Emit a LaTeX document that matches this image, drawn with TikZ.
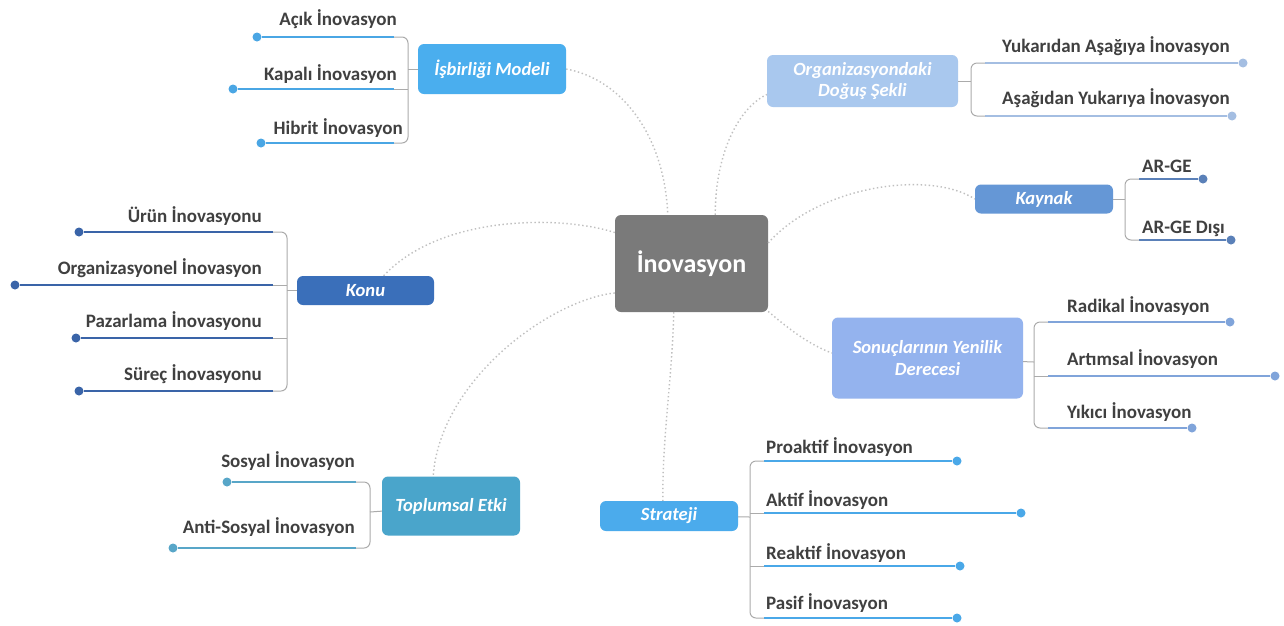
\documentclass[tikz,border=0pt]{standalone}
\usepackage{fontspec}
\setmainfont{Carlito}
\definecolor{cCtr}{HTML}{7A7A7A}
\definecolor{cIsb}{HTML}{4AAEEE}
\definecolor{lIsb}{HTML}{4AA6E4}
\definecolor{cOrg}{HTML}{A9C8EE}
\definecolor{lOrg}{HTML}{A4BEE2}
\definecolor{cKay}{HTML}{6597D6}
\definecolor{lKay}{HTML}{5A80B8}
\definecolor{cSon}{HTML}{94B3EE}
\definecolor{lSon}{HTML}{80A4DA}
\definecolor{cStr}{HTML}{4BABEC}
\definecolor{lStr}{HTML}{4AA8E8}
\definecolor{cTop}{HTML}{4AA5CB}
\definecolor{lTop}{HTML}{58A6C8}
\definecolor{cKon}{HTML}{3A6FBA}
\definecolor{lKon}{HTML}{3A64A8}
\definecolor{txtgray}{HTML}{404040}
\definecolor{brkgray}{HTML}{ABABAB}
\definecolor{lnkgray}{HTML}{BFBFBF}
\tikzset{
  catbox/.style={rounded corners=6pt, fill=#1, text=white, font=\bfseries\itshape\fontsize{18.6}{21}\selectfont, align=center, inner sep=0pt},
  leaf/.style={font=\bfseries\fontsize{19}{22}\selectfont, text=txtgray, inner sep=0pt},
  dotn/.style={circle, fill=#1, inner sep=0pt, minimum size=9pt},
  lline/.style={draw=#1, line width=2.8pt},
  brk/.style={draw=brkgray, line width=1pt, rounded corners=6pt},
  link/.style={draw=lnkgray, line width=1.4pt, dash pattern=on 1.4pt off 2.6pt},
}
\begin{document}
\begin{tikzpicture}[x=1pt,y=-1pt]
\useasboundingbox (0,0) rectangle (1284,625);
\fill[white] (0,0) rectangle (1284,625);

% category boxes
\node[catbox=cCtr, minimum width=153pt, minimum height=97pt, font=\bfseries\fontsize{26}{30}\selectfont] (ctr) at (691.5,263.5) {İnovasyon};
\node[catbox=cIsb, minimum width=148pt, minimum height=50pt] (isb) at (492,69) {İşbirliği Modeli};
\node[catbox=cOrg, minimum width=191pt, minimum height=52pt] (org) at (862.5,81) {Organizasyondaki\\Doğuş Şekli};
\node[catbox=cKay, minimum width=138pt, minimum height=29pt] (kay) at (1044,199) {Kaynak};
\node[catbox=cSon, minimum width=191pt, minimum height=81pt, font=\bfseries\itshape\fontsize{18.6}{22}\selectfont] (son) at (927.5,358) {Sonuçlarının Yenilik\\Derecesi};
\node[catbox=cStr, minimum width=138pt, minimum height=30pt] (str) at (669,516) {Strateji};
\node[catbox=cTop, minimum width=138pt, minimum height=59pt] (top) at (451,506) {Toplumsal Etki};
\node[catbox=cKon, minimum width=137pt, minimum height=29pt] (kon) at (365.5,290.5) {Konu};

% dotted links from the centre
\draw[link] (isb.east) .. controls (625,80) and (665,140) .. (ctr.116.8);
\draw[link] (ctr.64.2) .. controls (715,160) and (735,110) .. (org.188.4);
\draw[link] (ctr.15.7) .. controls (820,185) and (930,170) .. (kay.west);
\draw[link] (ctr.-32.4) .. controls (790,330) and (810,345) .. (son.177);
\draw[link] (ctr.-110.9) .. controls (672,380) and (662,440) .. (str.112);
\draw[link] (ctr.201.1) .. controls (550,300) and (440,380) .. (top.121);
\draw[link] (ctr.158.3) .. controls (560,215) and (440,215) .. (kon.39.6);

% ---- İşbirliği Modeli (left)
\foreach \n/\t/\tx/\bl/\ly/\dx in {isbA/Açık İnovasyon/397/25/37/257, isbB/Kapalı İnovasyon/397/80/89/233, isbC/Hibrit İnovasyon/403/134/143/261}{
  \node[leaf, anchor=base east] (\n) at (\tx,\bl) {\t};
  \node[dotn=lIsb] (\n-d) at (\dx,\ly) {};
  \coordinate (\n-e) at (394,\ly);
  \draw[lline=lIsb] (\n-e) -- (\n-d);
}
\coordinate (isb-j) at (408,69);
\draw[brk] (isbA-e) -| (isb-j) |- (isbC-e);
\draw[brk] (isbB-e) -- (isbB-e -| isb-j);
\draw[brk] (isb) -- (isb-j);

% ---- Konu (left)
\foreach \n/\t/\tx/\bl/\ly/\dx in {konA/Ürün İnovasyonu/262/222/232/79, konB/Organizasyonel İnovasyon/262/274/285/15, konC/Pazarlama İnovasyonu/262/327/338/76, konD/Süreç İnovasyonu/262/380/391/79}{
  \node[leaf, anchor=base east] (\n) at (\tx,\bl) {\t};
  \node[dotn=lKon] (\n-d) at (\dx,\ly) {};
  \coordinate (\n-e) at (273,\ly);
  \draw[lline=lKon] (\n-e) -- (\n-d);
}
\coordinate (kon-j) at (287,290.5);
\draw[brk] (konA-e) -| (kon-j) |- (konD-e);
\draw[brk] (konB-e) -- (konB-e -| kon-j);
\draw[brk] (konC-e) -- (konC-e -| kon-j);
\draw[brk] (kon) -- (kon-j);

% ---- Toplumsal Etki (left)
\foreach \n/\t/\tx/\bl/\ly/\dx in {topA/Sosyal İnovasyon/355/467/482/227, topB/Anti-Sosyal İnovasyon/355/533/548/173}{
  \node[leaf, anchor=base east] (\n) at (\tx,\bl) {\t};
  \node[dotn=lTop] (\n-d) at (\dx,\ly) {};
  \coordinate (\n-e) at (356,\ly);
  \draw[lline=lTop] (\n-e) -- (\n-d);
}
\coordinate (top-j) at (370,512);
\draw[brk] (topA-e) -| (top-j) |- (topB-e);
\draw[brk] (top) -- (top-j);

% ---- Organizasyondaki Doğuş Şekli (right)
\foreach \n/\t/\tx/\bl/\ly/\dx in {orgA/Yukarıdan Aşağıya İnovasyon/1002/52/63/1243, orgB/Aşağıdan Yukarıya İnovasyon/1002/104/116/1232}{
  \node[leaf, anchor=base west] (\n) at (\tx,\bl) {\t};
  \node[dotn=lOrg] (\n-d) at (\dx,\ly) {};
  \coordinate (\n-e) at (985,\ly);
  \draw[lline=lOrg] (\n-e) -- (\n-d);
}
\coordinate (org-j) at (971,81);
\draw[brk] (orgA-e) -| (org-j) |- (orgB-e);
\draw[brk] (org) -- (org-j);

% ---- Kaynak (right)
\foreach \n/\t/\tx/\bl/\ly/\dx in {kayA/AR-GE/1142/172/179/1203, kayB/AR-GE Dışı/1142/233/240/1231}{
  \node[leaf, anchor=base west] (\n) at (\tx,\bl) {\t};
  \node[dotn=lKay] (\n-d) at (\dx,\ly) {};
  \coordinate (\n-e) at (1139,\ly);
  \draw[lline=lKay] (\n-e) -- (\n-d);
}
\coordinate (kay-j) at (1125,199);
\draw[brk] (kayA-e) -| (kay-j) |- (kayB-e);
\draw[brk] (kay) -- (kay-j);

% ---- Sonuçlarının Yenilik Derecesi (right)
\foreach \n/\t/\tx/\bl/\ly/\dx in {sonA/Radikal İnovasyon/1067/312/322/1230, sonB/Artımsal İnovasyon/1067/365/376/1275, sonC/Yıkıcı İnovasyon/1067/418/428/1192}{
  \node[leaf, anchor=base west] (\n) at (\tx,\bl) {\t};
  \node[dotn=lSon] (\n-d) at (\dx,\ly) {};
  \coordinate (\n-e) at (1048,\ly);
  \draw[lline=lSon] (\n-e) -- (\n-d);
}
\coordinate (son-j) at (1034,362);
\draw[brk] (sonA-e) -| (son-j) |- (sonC-e);
\draw[brk] (sonB-e) -- (sonB-e -| son-j);
\draw[brk] (son) -- (son-j);

% ---- Strateji (right)
\foreach \n/\t/\tx/\bl/\ly/\dx in {strA/Proaktif İnovasyon/766/453/461/957, strB/Aktif İnovasyon/766/506/513/1021, strC/Reaktif İnovasyon/766/559/566/960, strD/Pasif İnovasyon/766/609/618/957}{
  \node[leaf, anchor=base west] (\n) at (\tx,\bl) {\t};
  \node[dotn=lStr] (\n-d) at (\dx,\ly) {};
  \coordinate (\n-e) at (764,\ly);
  \draw[lline=lStr] (\n-e) -- (\n-d);
}
\coordinate (str-j) at (750,517);
\draw[brk] (strA-e) -| (str-j) |- (strD-e);
\draw[brk] (strB-e) -- (strB-e -| str-j);
\draw[brk] (strC-e) -- (strC-e -| str-j);
\draw[brk] (str) -- (str-j);
\end{tikzpicture}
\end{document}
